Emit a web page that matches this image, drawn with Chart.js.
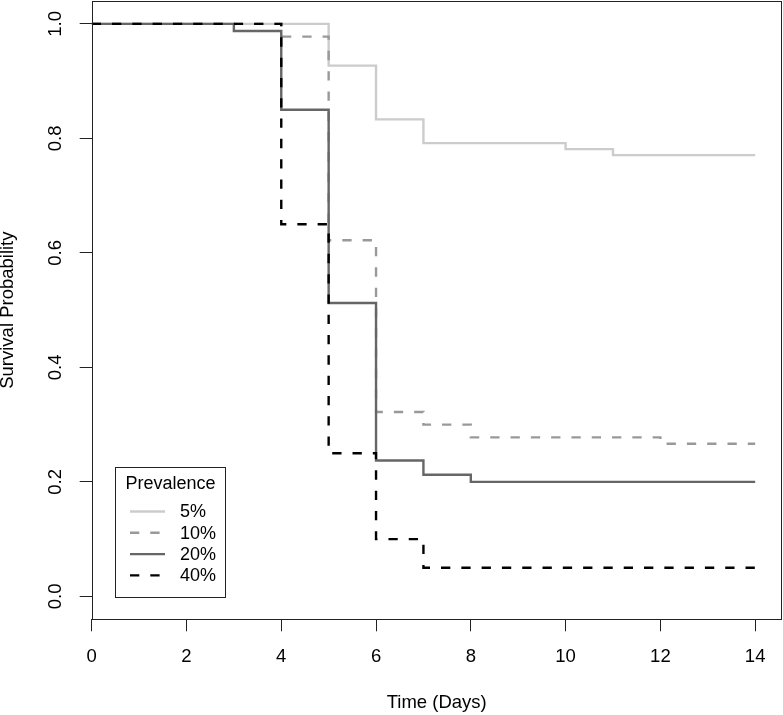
<!DOCTYPE html>
<html>
<head>
<meta charset="utf-8">
<script src="https://cdn.jsdelivr.net/npm/chart.js@4.4.0/dist/chart.umd.min.js"></script>
<style>
html,body{margin:0;padding:0;background:#fff;}
canvas{display:block;}
</style>
</head>
<body>
<canvas id="c" width="783" height="715"></canvas>
<script>
// ---- data ----
const seriesLabels = ["5%", "10%", "20%", "40%"];
const times5  = [0, 5, 6, 7, 10, 11, 14];
const surv5   = [1, 0.9271, 0.8333, 0.7917, 0.7813, 0.7708, 0.7708];
const times10 = [0, 4, 5, 6, 7, 8, 12, 14];
const surv10  = [1, 0.9778, 0.6222, 0.3222, 0.3000, 0.2778, 0.2667, 0.2667];
const times20 = [0, 3, 4, 5, 6, 7, 8, 14];
const surv20  = [1, 0.9875, 0.85, 0.5125, 0.2375, 0.2125, 0.2, 0.2];
const times40 = [0, 4, 5, 6, 7, 14];
const surv40  = [1, 0.65, 0.25, 0.10, 0.05, 0.05];
const xTicks = [0, 2, 4, 6, 8, 10, 12, 14];
const yTicks = [0.0, 0.2, 0.4, 0.6, 0.8, 1.0];
const xTitle = "Time (Days)";
const yTitle = "Survival Probability";
const legendTitle = "Prevalence";

// ---- styles ----
const FONT = '"Liberation Sans", Arial, Helvetica, sans-serif';
const FS = 18.5;
const LFS = 18;
const styles = [
  {color: "#cccccc", dash: []},
  {color: "#999999", dash: [9.3, 11]},
  {color: "#666666", dash: []},
  {color: "#000000", dash: [9.3, 11]}
];
const LW = 2.4;

function pts(t, v) { return t.map((x, i) => ({x: x, y: v[i]})); }
const allData = [pts(times5, surv5), pts(times10, surv10), pts(times20, surv20), pts(times40, surv40)];

const datasets = allData.map((d, i) => ({
  label: seriesLabels[i],
  data: d,
  stepped: true,
  borderColor: styles[i].color,
  borderWidth: LW,
  borderDash: styles[i].dash,
  borderCapStyle: 'butt',
  borderJoinStyle: 'miter',
  pointRadius: 0,
  fill: false,
  order: 4 - i
}));

const decor = {
  id: 'decor',
  afterDraw(chart) {
    const ctx = chart.ctx;
    const a = chart.chartArea;
    const ys = chart.scales.y;
    ctx.save();
    // box
    ctx.strokeStyle = '#222';
    ctx.lineWidth = 1;
    ctx.setLineDash([]);
    const L = Math.round(a.left) + 0.5, R = Math.round(a.right) - 0.5;
    const T = Math.round(a.top) + 0.5, B = Math.round(a.bottom) + 0.5;
    ctx.strokeRect(L, T, R - L, B - T);

    // y tick labels (rotated)
    ctx.fillStyle = '#000';
    ctx.font = FS + 'px ' + FONT;
    ctx.textAlign = 'center';
    ctx.textBaseline = 'middle';
    yTicks.forEach(v => {
      const py = ys.getPixelForValue(v);
      ctx.save();
      ctx.translate(56.3, py);
      ctx.rotate(-Math.PI / 2);
      ctx.fillText(v.toFixed(1), 0, 0);
      ctx.restore();
    });
    // y title
    ctx.save();
    ctx.translate(8.3, (a.top + a.bottom) / 2);
    ctx.rotate(-Math.PI / 2);
    ctx.fillText(yTitle, 0, 0);
    ctx.restore();
    // x title
    ctx.fillText(xTitle, (a.left + a.right) / 2, 702.9);

    // legend
    const bx = 115.5, by = 467.5, bw = 110, bh = 130;
    ctx.fillStyle = '#fff';
    ctx.fillRect(bx, by, bw, bh);
    ctx.strokeStyle = '#222';
    ctx.lineWidth = 1;
    ctx.strokeRect(bx, by, bw, bh);
    ctx.fillStyle = '#000';
    ctx.font = LFS + 'px ' + FONT;
    ctx.textAlign = 'center';
    ctx.fillText(legendTitle, bx + bw / 2, 484);
    ctx.textAlign = 'left';
    const rows = [511.5, 532.8, 554.1, 575.4];
    seriesLabels.forEach((lab, i) => {
      ctx.strokeStyle = styles[i].color;
      ctx.lineWidth = LW;
      ctx.lineCap = 'butt';
      ctx.setLineDash(styles[i].dash);
      ctx.beginPath();
      ctx.moveTo(130, rows[i]);
      ctx.lineTo(165, rows[i]);
      ctx.stroke();
      ctx.setLineDash([]);
      ctx.fillText(lab, 180, rows[i] + 1);
    });
    ctx.restore();
  }
};

new Chart(document.getElementById('c'), {
  type: 'line',
  data: {datasets: datasets},
  options: {
    responsive: false,
    animation: false,
    devicePixelRatio: 1,
    layout: {padding: {top: 1, right: 1.3, left: 0, bottom: 0}},
    plugins: {legend: {display: false}, tooltip: {enabled: false}, title: {display: false}},
    scales: {
      x: {
        type: 'linear',
        min: 0,
        max: 14.56,
        afterBuildTicks: s => { s.ticks = xTicks.map(v => ({value: v})); },
        afterFit: s => { s.height = 95.7; },
        grid: {drawOnChartArea: false, drawTicks: true, tickLength: 12, color: '#222', lineWidth: 1},
        border: {display: false},
        ticks: {
          autoSkip: false, maxRotation: 0, minRotation: 0,
          padding: 14.1,
          color: '#000',
          font: {family: FONT, size: FS},
          callback: v => String(v)
        }
      },
      y: {
        type: 'linear',
        min: -0.04,
        max: 1.04,
        afterBuildTicks: s => { s.ticks = yTicks.map(v => ({value: v})); },
        afterFit: s => { s.width = 91.7; },
        grid: {drawOnChartArea: false, drawTicks: true, tickLength: 12, color: '#222', lineWidth: 1},
        border: {display: false},
        ticks: {display: false}
      }
    }
  },
  plugins: [decor]
});
</script>
</body>
</html>
